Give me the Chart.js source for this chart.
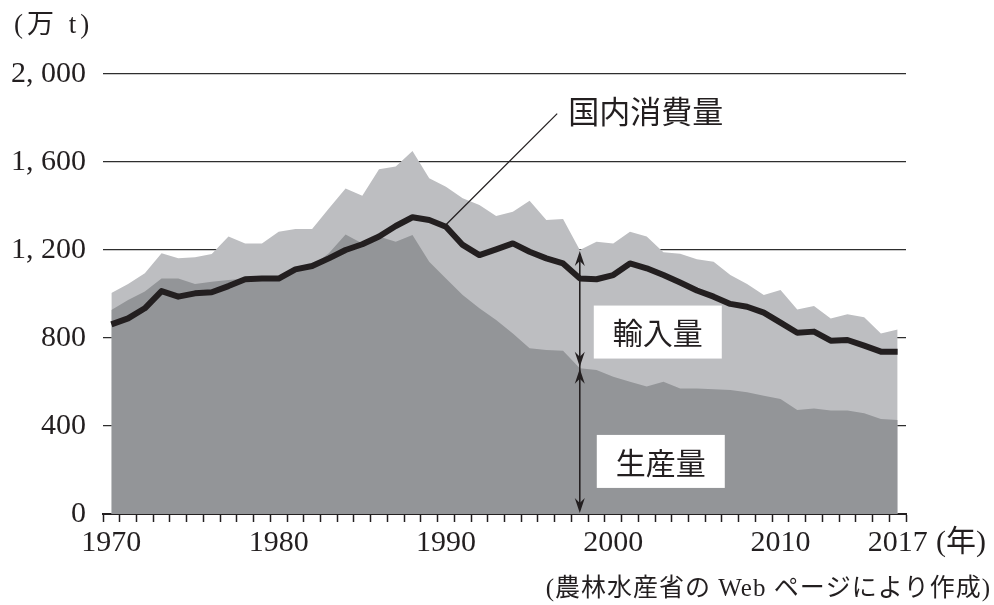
<!DOCTYPE html>
<html lang="ja">
<head>
<meta charset="utf-8">
<title>国内消費量・輸入量・生産量</title>
<script src="https://cdn.jsdelivr.net/npm/chart.js@4/dist/chart.umd.min.js"></script>
<style>
  html, body { margin: 0; padding: 0; background: #fff; }
  #chart { display: block; }
</style>
</head>
<body>
<canvas id="chart" width="994" height="605"></canvas>
<script>
/* 国内消費量・輸入量・生産量 (万 t), 1970–2017 */

const YEARS = [
  '1970', '1971', '1972', '1973', '1974', '1975', '1976', '1977', '1978', '1979',
  '1980', '1981', '1982', '1983', '1984', '1985', '1986', '1987', '1988', '1989',
  '1990', '1991', '1992', '1993', '1994', '1995', '1996', '1997', '1998', '1999',
  '2000', '2001', '2002', '2003', '2004', '2005', '2006', '2007', '2008', '2009',
  '2010', '2011', '2012', '2013', '2014', '2015', '2016', '2017',
];
const SHOWN_YEARS = ['1970', '1980', '1990', '2000', '2010', '2017'];

// 生産量 + 輸入量 (top of the light area)
const SUPPLY = [
  1005, 1045, 1094, 1185, 1162, 1167, 1182, 1261, 1230, 1230,
  1283, 1295, 1295, 1389, 1480, 1447, 1567, 1579, 1650, 1526,
  1488, 1435, 1405, 1355, 1374, 1424, 1336, 1341, 1200, 1238,
  1230, 1283, 1261, 1190, 1183, 1158, 1147, 1086, 1045, 995,
  1018, 930, 945, 889, 908, 894, 821, 839,
];

// 生産量
const PRODUCTION = [
  927, 973, 1011, 1071, 1071, 1045, 1056, 1064, 1071, 1071,
  1079, 1109, 1127, 1185, 1271, 1230, 1261, 1238, 1268, 1147,
  1071, 995, 935, 882, 821, 753, 745, 742, 662, 655,
  624, 601, 579, 601, 571, 571, 567, 564, 553, 538,
  523, 473, 480, 470, 470, 458, 432, 427,
];

// 国内消費量
const CONSUMPTION = [
  862, 889, 935, 1013, 988, 1003, 1008, 1036, 1067, 1070,
  1070, 1112, 1127, 1162, 1200, 1226, 1261, 1309, 1349, 1336,
  1306, 1223, 1177, 1203, 1230, 1192, 1162, 1139, 1071, 1067,
  1086, 1139, 1117, 1086, 1052, 1016, 988, 955, 942, 915,
  870, 824, 829, 788, 791, 765, 738, 738,
];

const INK = '#231f20';
const SERIF = "'Liberation Serif', 'Noto Sans CJK JP', serif";
const JP = "'Noto Sans CJK JP', sans-serif";
const ARROW_YEAR = '1998';

function arrowHead(ctx, x, yTip, dir) {
  // dir = -1 points up, +1 points down
  ctx.beginPath();
  ctx.moveTo(x, yTip);
  ctx.lineTo(x - 5, yTip - dir * 15);
  ctx.lineTo(x, yTip - dir * 10);
  ctx.lineTo(x + 5, yTip - dir * 15);
  ctx.closePath();
  ctx.fill();
}

function labelBox(ctx, text, cx, cy, w, h) {
  ctx.fillStyle = '#fff';
  ctx.fillRect(cx - w / 2, cy - h / 2, w, h);
  ctx.fillStyle = INK;
  ctx.font = `30px ${JP}`;
  ctx.textAlign = 'center';
  ctx.textBaseline = 'middle';
  ctx.fillText(text, cx, cy + 1);
}

const annotate = {
  id: 'annotate',
  afterDraw(chart) {
    const { ctx } = chart;
    const x = chart.scales.x, y = chart.scales.y;
    ctx.save();

    // unit + axis suffix + source
    ctx.fillStyle = INK;
    ctx.font = `27px ${SERIF}`;
    ctx.letterSpacing = '4px';
    ctx.textAlign = 'left';
    ctx.textBaseline = 'middle';
    ctx.fillText('(万 t)', 14, 26);

    ctx.letterSpacing = '0px';
    ctx.font = `30px ${SERIF}`;
    ctx.fillText('(年)', 936, 543);

    ctx.letterSpacing = '1px';
    ctx.font = `25px ${SERIF}`;
    ctx.textAlign = 'right';
    ctx.fillText('(農林水産省の Web ページにより作成)', 991, 589);
    ctx.letterSpacing = '0px';

    // 国内消費量 leader
    const i90 = YEARS.indexOf('1990');
    const sx = x.getPixelForValue(i90), sy = y.getPixelForValue(CONSUMPTION[i90]) - 2;
    const ex = x.getPixelForValue(26.65), ey = y.getPixelForValue(1820);
    ctx.strokeStyle = INK;
    ctx.lineWidth = 1.3;
    ctx.beginPath();
    ctx.moveTo(sx, sy);
    ctx.lineTo(ex, ey);
    ctx.stroke();
    ctx.font = `31px ${JP}`;
    ctx.textAlign = 'left';
    ctx.fillText('国内消費量', ex + 11, ey - 2);

    // double arrows at 1998
    const ia = YEARS.indexOf(ARROW_YEAR);
    const ax = x.getPixelForValue(ia);
    const yTop = y.getPixelForValue(SUPPLY[ia]);
    const yMid = y.getPixelForValue(PRODUCTION[ia]);
    const yBot = y.getPixelForValue(0);
    ctx.fillStyle = INK;
    ctx.lineWidth = 1.6;
    ctx.beginPath();
    ctx.moveTo(ax, yTop + 4);
    ctx.lineTo(ax, yBot - 4);
    ctx.stroke();
    arrowHead(ctx, ax, yTop + 1, -1);
    arrowHead(ctx, ax, yMid - 1.5, 1);
    arrowHead(ctx, ax, yMid + 0.5, -1);
    arrowHead(ctx, ax, yBot - 1, 1);

    labelBox(ctx, '輸入量', ax + 78, y.getPixelForValue(827), 128, 53);
    labelBox(ctx, '生産量', ax + 81, y.getPixelForValue(239), 128, 53);

    ctx.restore();
  },
};

new Chart(document.getElementById('chart'), {
  type: 'line',
  data: {
    labels: YEARS,
    datasets: [
      {
        label: '国内消費量',
        data: CONSUMPTION,
        borderColor: INK,
        borderWidth: 6,
        borderJoinStyle: 'round',
        pointRadius: 0,
        fill: false,
        tension: 0,
      },
      {
        label: '生産量',
        data: PRODUCTION,
        backgroundColor: '#939598',
        borderWidth: 0,
        pointRadius: 0,
        fill: 'origin',
        tension: 0,
      },
      {
        label: '輸入量',
        data: SUPPLY,
        backgroundColor: '#bdbec1',
        borderWidth: 0,
        pointRadius: 0,
        fill: 'origin',
        tension: 0,
      },
    ],
  },
  options: {
    responsive: false,
    animation: false,
    devicePixelRatio: 1,
    layout: { padding: { top: 74, left: 0, right: 88, bottom: 0 } },
    plugins: { legend: { display: false }, tooltip: { enabled: false } },
    scales: {
      x: {
        offset: true,
        afterFit: s => { s.height = 91; },
        border: { display: true, color: INK, width: 2 },
        grid: {
          offset: true,
          drawOnChartArea: false,
          drawTicks: true,
          tickLength: 8,
          tickColor: INK,
          tickWidth: 1.5,
        },
        ticks: {
          autoSkip: false,
          maxRotation: 0,
          padding: 3,
          color: INK,
          font: { family: SERIF, size: 30 },
          callback: function (v) {
            const yr = this.getLabelForValue(v);
            return SHOWN_YEARS.includes(yr) ? yr : '';
          },
        },
      },
      y: {
        min: 0,
        max: 2000,
        z: 1,
        afterFit: s => { s.width = 103; },
        border: { display: false },
        grid: { color: '#2e2e2e', lineWidth: 1.3, drawTicks: false },
        ticks: {
          stepSize: 400,
          padding: 17,
          color: INK,
          font: { family: SERIF, size: 30 },
          callback: v => v.toLocaleString('en-US').replace(',', ', '),
        },
      },
    },
  },
  plugins: [annotate],
});
</script>
</body>
</html>
